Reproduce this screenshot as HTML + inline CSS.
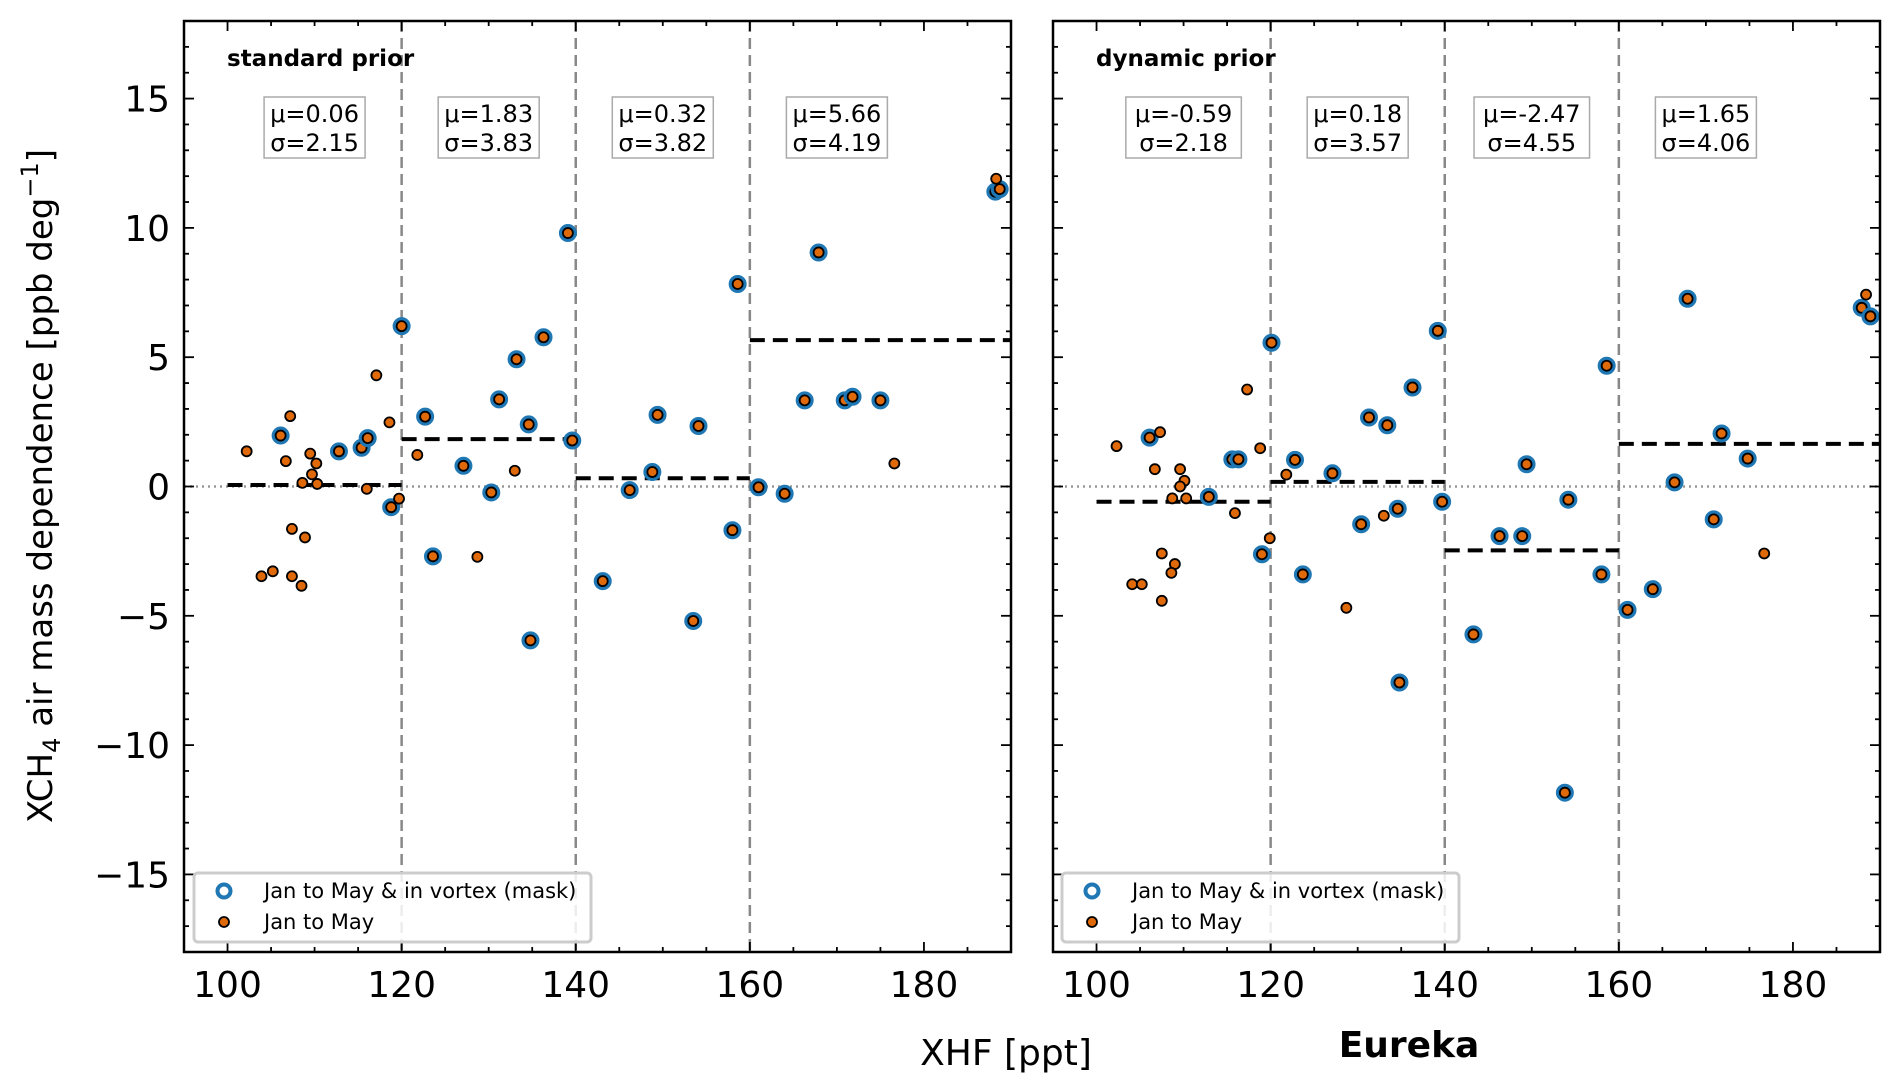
<!DOCTYPE html>
<html><head><meta charset="utf-8"><style>
html,body{margin:0;padding:0;background:#fff;}
svg{display:block;font-family:"DejaVu Sans","Liberation Sans",sans-serif;}
</style></head><body>
<svg id="chart" xmlns="http://www.w3.org/2000/svg" width="1892" height="1091" viewBox="0 0 1892 1091">
<rect width="1892" height="1091" fill="#fff"/>
<g id="layer"></g>
<text transform="translate(52,486) rotate(-90)" text-anchor="middle" font-size="34" fill="#000">XCH<tspan font-size="24" dy="8">4</tspan><tspan dy="-8"> air mass dependence [ppb deg</tspan><tspan font-size="24" dy="-14">−1</tspan><tspan dy="14">]</tspan></text>
<text x="1006" y="1065" text-anchor="middle" font-size="36" fill="#000">XHF [ppt]</text>
<text x="1409" y="1057" text-anchor="middle" font-size="36" font-weight="bold" fill="#000">Eureka</text>
</svg>
<script>
// ---- data ----
const xTicks = [100,120,140,160,180];
const yTicks = [-15,-10,-5,0,5,10,15];
const binEdges = [100,120,140,160,190];
const stdMaskX = [106.1,112.8,115.4,116.1,118.8,120.0,122.7,123.6,127.1,130.3,131.2,133.2,134.6,134.8,136.3,139.1,139.6,143.1,146.2,148.8,149.4,153.5,154.1,158.0,158.6,161.0,164.0,166.3,167.9,170.9,171.8,175.0,188.2,188.7];
const stdMaskY = [1.97,1.36,1.5,1.87,-0.8,6.2,2.7,-2.7,0.8,-0.23,3.37,4.92,2.4,-5.95,5.77,9.8,1.78,-3.66,-0.14,0.56,2.77,-5.2,2.34,-1.69,7.83,-0.03,-0.28,3.33,9.05,3.33,3.47,3.33,11.4,11.5];
const stdJanX = [102.2,106.7,107.2,103.9,105.2,107.4,108.5,107.4,108.9,108.6,109.5,110.2,109.7,110.3,116.0,117.1,118.6,119.7,121.8,128.7,133.0,176.6,188.3];
const stdJanY = [1.36,0.98,2.72,-3.47,-3.28,-3.47,-3.84,-1.64,-1.97,0.14,1.27,0.89,0.47,0.1,-0.09,4.3,2.48,-0.47,1.22,-2.72,0.61,0.89,11.9];
const dynMaskX = [106.1,112.9,115.6,116.3,119.0,120.1,122.8,123.7,127.1,130.4,131.3,133.4,134.6,134.8,136.3,139.2,139.7,143.3,146.3,148.9,149.4,153.8,154.2,158.0,158.6,161.0,163.9,166.4,167.9,170.9,171.8,174.8,187.9,188.9];
const dynMaskY = [1.89,-0.40,1.05,1.05,-2.62,5.56,1.03,-3.40,0.51,-1.46,2.67,2.37,-0.86,-7.58,3.83,6.02,-0.59,-5.72,-1.92,-1.92,0.86,-11.84,-0.51,-3.40,4.67,-4.77,-3.97,0.16,7.26,-1.27,2.05,1.08,6.91,6.58];
const dynJanX = [102.3,107.3,106.7,109.6,110.1,109.6,108.7,110.3,115.9,117.3,118.8,119.9,121.8,107.5,109.0,108.6,104.1,105.2,107.5,128.7,133.0,176.7,188.4];
const dynJanY = [1.56,2.10,0.67,0.67,0.22,0.0,-0.46,-0.46,-1.03,3.75,1.48,-2.0,0.46,-2.59,-3.0,-3.34,-3.78,-3.78,-4.42,-4.69,-1.13,-2.59,7.42];
const stdMeans = [0.06,1.83,0.32,5.66];
const stdSigmas = ["2.15","3.83","3.82","4.19"];
const stdMeanLabels = ["0.06","1.83","0.32","5.66"];
const dynMeans = [-0.59,0.18,-2.47,1.65];
const dynSigmas = ["2.18","3.57","4.55","4.06"];
const dynMeanLabels = ["-0.59","0.18","-2.47","1.65"];

const NS="http://www.w3.org/2000/svg";
const layer=document.getElementById('layer');
function mk(tag,attrs,parent){const e=document.createElementNS(NS,tag);for(const k in attrs)e.setAttribute(k,attrs[k]);(parent||layer).appendChild(e);return e;}
const Y0=21,Y1=952,XMIN=95,XMAX=190,YMIN=-18,YMAX=18;

function panel(px0,px1,name,title,maskX,maskY,janX,janY,means,meanLabels,sigmas,showYLabels,legX){
  const g=mk('g',{});
  
  
  const sx=v=>px0+(v-XMIN)/(XMAX-XMIN)*(px1-px0);
  const sy=v=>Y0+(YMAX-v)/(YMAX-YMIN)*(Y1-Y0);
  // zero dotted line
  const z=mk('line',{x1:px0,x2:px1,y1:sy(0),y2:sy(0),stroke:'#999','stroke-width':2.5,'stroke-dasharray':'2,4'},g);
  
  
  // bin separators
  for(let i=1;i<binEdges.length-1;i++){
    const l=mk('line',{x1:sx(binEdges[i]),x2:sx(binEdges[i]),y1:Y0,y2:Y1,stroke:'#888','stroke-width':2.5,'stroke-dasharray':'11,6'},g);
    
    
  }
  // mean lines
  for(let i=0;i<means.length;i++){
    const l=mk('line',{x1:sx(binEdges[i]),x2:sx(binEdges[i+1]),y1:sy(means[i]),y2:sy(means[i]),stroke:'#000','stroke-width':4,'stroke-dasharray':'15,8'},g);
    
    
    const cx=sx((binEdges[i]+Math.min(binEdges[i+1],180))/2);
    const t1='μ='+meanLabels[i], t2='σ='+sigmas[i];
    const w=Math.max(t1.length,t2.length)*14.5+14;
    const r=mk('rect',{x:cx-w/2,y:97,width:w,height:61,fill:'#fff',stroke:'#aaa','stroke-width':1.5},g);
    
    
    const a=mk('text',{x:cx,y:122,'text-anchor':'middle','font-size':24},g);a.textContent=t1;
    
    
    const b=mk('text',{x:cx,y:151,'text-anchor':'middle','font-size':24},g);b.textContent=t2;
    
    
  }
  // points
  for(let i=0;i<maskX.length;i++){
    const c=mk('circle',{cx:sx(maskX[i]),cy:sy(maskY[i]),r:7,fill:'none',stroke:'#1f77b4','stroke-width':4},g);
    
    
    const d=mk('circle',{cx:sx(maskX[i]),cy:sy(maskY[i]),r:5,fill:'#e06a0a',stroke:'#000','stroke-width':1.8},g);
    
    
  }
  for(let i=0;i<janX.length;i++){
    const d=mk('circle',{cx:sx(janX[i]),cy:sy(janY[i]),r:5,fill:'#e06a0a',stroke:'#000','stroke-width':1.8},g);
    
    
  }
  // frame
  const f=mk('rect',{x:px0,y:Y0,width:px1-px0,height:Y1-Y0,fill:'none',stroke:'#000','stroke-width':2.5},g);
  
  
  // x ticks
  for(let v=95;v<=190;v+=5){
    const major=v%20===0;const L=major?10:5;const x=sx(v);
    mk('line',{x1:x,x2:x,y1:Y1,y2:Y1-L,stroke:'#000','stroke-width':1.8},g);
    mk('line',{x1:x,x2:x,y1:Y0,y2:Y0+L,stroke:'#000','stroke-width':1.8},g);
  }
  xTicks.forEach(v=>{const t=mk('text',{x:sx(v),y:997,'text-anchor':'middle','font-size':36},g);t.textContent=v;
    
    });
  for(let v=-17;v<=17;v++){
    const major=v%5===0;const L=major?10:5;const y=sy(v);
    mk('line',{x1:px0,x2:px0+L,y1:y,y2:y,stroke:'#000','stroke-width':1.8},g);
    mk('line',{x1:px1,x2:px1-L,y1:y,y2:y,stroke:'#000','stroke-width':1.8},g);
  }
  if(showYLabels) yTicks.forEach(v=>{const t=mk('text',{x:px0-14,y:sy(v)+13,'text-anchor':'end','font-size':36},g);t.textContent=(v<0?'−'+(-v):v);
    
    });
  const tt=mk('text',{x:px0+43,y:66,'font-size':23,'font-weight':'bold'},g);tt.textContent=title;
  
  
  // legend
  const lg=mk('g',{},g);
  
  
  mk('rect',{x:legX,y:873,width:397,height:69,rx:4,fill:'#fff','fill-opacity':0.85,stroke:'#ccc','stroke-width':3},lg);
  mk('circle',{cx:legX+30,cy:891,r:6.5,fill:'none',stroke:'#1f77b4','stroke-width':4},lg);
  mk('circle',{cx:legX+30,cy:922,r:5,fill:'#e06a0a',stroke:'#000','stroke-width':1.8},lg);
  const l1=mk('text',{x:legX+70,y:898,'font-size':21},lg);l1.textContent='Jan to May & in vortex (mask)';
  
  
  const l2=mk('text',{x:legX+70,y:929,'font-size':21},lg);l2.textContent='Jan to May';
  
  
}
panel(184,1011,'standard-prior','standard prior',stdMaskX,stdMaskY,stdJanX,stdJanY,stdMeans,stdMeanLabels,stdSigmas,true,194);
panel(1053,1880,'dynamic-prior','dynamic prior',dynMaskX,dynMaskY,dynJanX,dynJanY,dynMeans,dynMeanLabels,dynSigmas,false,1062);
</script>
</body></html>
